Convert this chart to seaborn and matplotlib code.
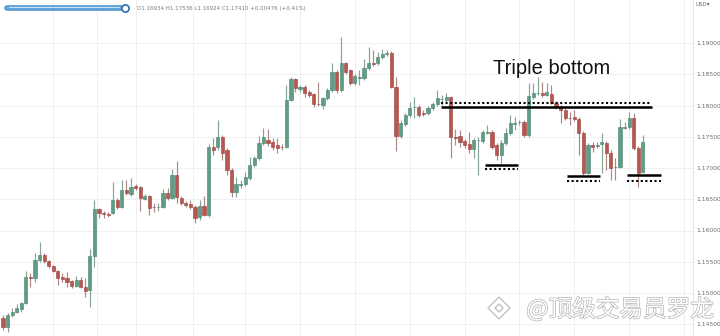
import numpy as np
import pandas as pd
import matplotlib
matplotlib.use("Agg")
import matplotlib.pyplot as plt
import matplotlib.patheffects as pe
from matplotlib.lines import Line2D
from matplotlib.patches import Polygon
import seaborn as sns

# ---- EUR/USD candles (open / high / low / close) ----
opens = [
    1.14600, 1.14456, 1.14648, 1.14696, 1.14744, 1.14840, 1.15256, 1.15240, 1.15528, 1.15608,
    1.15512, 1.15432, 1.15352, 1.15256, 1.15240, 1.15192, 1.15112, 1.15208, 1.15096, 1.15048,
    1.15592, 1.16344, 1.16280, 1.16264, 1.16280, 1.16488, 1.16376, 1.16648, 1.16584, 1.16712,
    1.16696, 1.16504, 1.16552, 1.16376, 1.16368, 1.16376, 1.16600, 1.16520, 1.16888, 1.16520,
    1.16440, 1.16424, 1.16376, 1.16216, 1.16392, 1.16248, 1.17336, 1.17336, 1.17496, 1.17288,
    1.16968, 1.16616, 1.16736, 1.16744, 1.16840, 1.17048, 1.17160, 1.17400, 1.17448, 1.17416,
    1.17368, 1.17336, 1.17336, 1.18088, 1.18424, 1.18264, 1.18296, 1.18216, 1.18184, 1.18024,
    1.18008, 1.18120, 1.18248, 1.18536, 1.18248, 1.18680, 1.18568, 1.18360, 1.18448, 1.18440,
    1.18600, 1.18680, 1.18680, 1.18776, 1.18816, 1.18840, 1.18296, 1.17512, 1.17704, 1.17848,
    1.17968, 1.17976, 1.17880, 1.17880, 1.17960, 1.18024, 1.18096, 1.18088, 1.18136, 1.17496,
    1.17512, 1.17432, 1.17384, 1.17304, 1.17440, 1.17432, 1.17560, 1.17576, 1.17368, 1.17208,
    1.17400, 1.17560, 1.17712, 1.17728, 1.17736, 1.17528, 1.18136, 1.18192, 1.18200, 1.18168,
    1.18184, 1.18040, 1.17976, 1.17928, 1.17800, 1.17816, 1.17784, 1.17560, 1.16920, 1.17368,
    1.17360, 1.17384, 1.17400, 1.17240, 1.17016, 1.17016, 1.17648, 1.17656, 1.17800, 1.17320,
    1.16934,
]
highs = [
    1.14648, 1.14680, 1.14760, 1.14824, 1.14856, 1.15352, 1.15320, 1.15640, 1.15816, 1.15640,
    1.15528, 1.15448, 1.15368, 1.15320, 1.15336, 1.15208, 1.15272, 1.15256, 1.15240, 1.15704,
    1.16488, 1.16360, 1.16312, 1.16296, 1.16776, 1.16520, 1.16808, 1.16808, 1.16840, 1.16744,
    1.16712, 1.16584, 1.16568, 1.16440, 1.16440, 1.16664, 1.16680, 1.16984, 1.17112, 1.16552,
    1.16472, 1.16488, 1.16408, 1.16488, 1.16552, 1.17384, 1.17480, 1.17768, 1.17528, 1.17320,
    1.17000, 1.16856, 1.16808, 1.16936, 1.17176, 1.17192, 1.17512, 1.17640, 1.17624, 1.17480,
    1.17480, 1.17384, 1.18328, 1.18456, 1.18440, 1.18328, 1.18328, 1.18248, 1.18200, 1.18376,
    1.18136, 1.18280, 1.18680, 1.18568, 1.19096, 1.18696, 1.18584, 1.18504, 1.18568, 1.18744,
    1.18936, 1.18888, 1.18856, 1.18904, 1.18888, 1.18872, 1.18456, 1.17768, 1.17880, 1.18056,
    1.18136, 1.18008, 1.17928, 1.17992, 1.18056, 1.18248, 1.18168, 1.18200, 1.18152, 1.17624,
    1.17608, 1.17464, 1.17576, 1.17480, 1.17496, 1.17608, 1.17688, 1.17608, 1.17400, 1.17448,
    1.17640, 1.17848, 1.17816, 1.17768, 1.17768, 1.18360, 1.18360, 1.18456, 1.18376, 1.18360,
    1.18328, 1.18072, 1.18008, 1.17960, 1.17896, 1.17928, 1.17816, 1.17592, 1.17400, 1.17416,
    1.17416, 1.17560, 1.17432, 1.17288, 1.17160, 1.17784, 1.17736, 1.17896, 1.17880, 1.17352,
    1.17536,
]
lows = [
    1.14408, 1.14376, 1.14616, 1.14680, 1.14696, 1.14824, 1.15096, 1.15176, 1.15496, 1.15480,
    1.15400, 1.15336, 1.15128, 1.15176, 1.15096, 1.15080, 1.15096, 1.15080, 1.14936, 1.14776,
    1.15416, 1.16200, 1.16200, 1.16216, 1.16264, 1.16344, 1.16360, 1.16568, 1.16552, 1.16648,
    1.16312, 1.16488, 1.16248, 1.16296, 1.16312, 1.16360, 1.16488, 1.16504, 1.16440, 1.16408,
    1.16376, 1.16344, 1.16120, 1.16168, 1.16232, 1.16216, 1.17208, 1.17288, 1.17128, 1.16888,
    1.16536, 1.16536, 1.16680, 1.16712, 1.16808, 1.17016, 1.17128, 1.17368, 1.17352, 1.17288,
    1.17240, 1.17288, 1.17320, 1.18072, 1.18216, 1.18216, 1.18136, 1.18136, 1.17976, 1.17992,
    1.17944, 1.18088, 1.18216, 1.18200, 1.18216, 1.18504, 1.18328, 1.18328, 1.18328, 1.18408,
    1.18568, 1.18632, 1.18648, 1.18744, 1.18792, 1.18280, 1.17272, 1.17480, 1.17672, 1.17816,
    1.17800, 1.17816, 1.17832, 1.17848, 1.17928, 1.17992, 1.18008, 1.18056, 1.17160, 1.17368,
    1.17336, 1.17320, 1.17240, 1.17160, 1.16888, 1.17400, 1.17544, 1.17304, 1.17128, 1.17080,
    1.17368, 1.17528, 1.17608, 1.17688, 1.17496, 1.17496, 1.18104, 1.18168, 1.18136, 1.18152,
    1.18024, 1.17944, 1.17720, 1.17768, 1.17688, 1.17752, 1.17208, 1.16888, 1.16904, 1.17256,
    1.17320, 1.16920, 1.16968, 1.16808, 1.16808, 1.17000, 1.17624, 1.17624, 1.17288, 1.16696,
    1.16924,
]
closes = [
    1.14456, 1.14648, 1.14696, 1.14760, 1.14840, 1.15256, 1.15240, 1.15528, 1.15608, 1.15512,
    1.15432, 1.15352, 1.15240, 1.15224, 1.15176, 1.15112, 1.15208, 1.15096, 1.15032, 1.15592,
    1.16344, 1.16280, 1.16264, 1.16248, 1.16488, 1.16376, 1.16648, 1.16600, 1.16696, 1.16680,
    1.16520, 1.16552, 1.16360, 1.16368, 1.16376, 1.16600, 1.16520, 1.16888, 1.16536, 1.16440,
    1.16408, 1.16376, 1.16200, 1.16392, 1.16248, 1.17336, 1.17288, 1.17496, 1.17240, 1.16968,
    1.16616, 1.16744, 1.16744, 1.16856, 1.17048, 1.17160, 1.17400, 1.17496, 1.17400, 1.17336,
    1.17320, 1.17328, 1.18088, 1.18424, 1.18280, 1.18296, 1.18200, 1.18168, 1.18024, 1.18016,
    1.18120, 1.18248, 1.18536, 1.18248, 1.18680, 1.18536, 1.18360, 1.18472, 1.18456, 1.18600,
    1.18680, 1.18672, 1.18776, 1.18824, 1.18840, 1.18296, 1.17512, 1.17720, 1.17848, 1.17960,
    1.17976, 1.17848, 1.17872, 1.17960, 1.18024, 1.18120, 1.18104, 1.18136, 1.17496, 1.17488,
    1.17416, 1.17368, 1.17304, 1.17448, 1.17448, 1.17576, 1.17576, 1.17336, 1.17208, 1.17400,
    1.17560, 1.17720, 1.17720, 1.17736, 1.17528, 1.18152, 1.18200, 1.18200, 1.18168, 1.18216,
    1.18040, 1.17976, 1.17928, 1.17800, 1.17792, 1.17784, 1.17560, 1.16920, 1.17368, 1.17336,
    1.17368, 1.17416, 1.17240, 1.17000, 1.17008, 1.17656, 1.17656, 1.17800, 1.17320, 1.16920,
    1.17410,
]

# Price axis labels
price_ticks = [1.145, 1.150, 1.155, 1.160, 1.165, 1.170, 1.175, 1.180, 1.185, 1.190]
# Session separators (bar index)
session_lines = [11, 20.5, 29, 41.5, 53, 65, 77, 89, 101, 113, 125, 137, 149]

# Support / resistance annotations: price, first bar, last bar, style
level_price = [1.17976, 1.18040, 1.17040, 1.16984, 1.16872, 1.16800, 1.16880, 1.16800]
level_start = [95.8, 95.8, 105.5, 105.5, 123.4, 123.4, 136.5, 136.5]
level_end   = [142.0, 141.7, 112.7, 112.7, 130.6, 130.6, 144.0, 144.0]
level_kind  = ["solid", "dots", "solid", "dots", "solid", "dots", "solid", "dots"]

header = "O1.16934 H1.17536 L1.16924 C1.17410 +0.00476 (+0.41%)"

# ---------------------------------------------------------------
sns.set_theme(style="white")
plt.rcParams["font.family"] = ["DejaVu Sans"]

W, H = 720, 336
fig = plt.figure(figsize=(W / 100, H / 100), dpi=100)
fig.patch.set_facecolor("white")
ax = fig.add_axes([0, 0, 693 / W, 1])
ax.set_facecolor("white")

df = pd.DataFrame({"open": opens, "high": highs, "low": lows, "close": closes})
df["bar"] = np.arange(len(df))
df["up"] = df["close"] >= df["open"]

up_face, up_edge, up_wick = "#5e9e85", "#467f68", "#86a597"
dn_face, dn_edge, dn_wick = "#b9564f", "#963f3a", "#ad8985"

# wicks
for up, wick in ((True, up_wick), (False, dn_wick)):
    sub = df[df["up"] == up]
    ax.vlines(sub["bar"], sub["low"], sub["high"], color=wick, lw=0.85, zorder=2)

# bodies
min_body = 0.00008
body_lo = np.minimum(df["open"], df["close"])
body_h = np.maximum((df["close"] - df["open"]).abs(), min_body)
for up, face, edge in ((True, up_face, up_edge), (False, dn_face, dn_edge)):
    m = df["up"] == up
    ax.bar(df.loc[m, "bar"], body_h[m], bottom=body_lo[m], width=0.7,
           color=face, edgecolor=edge, linewidth=0.4, zorder=3)

# support / resistance marks
for p, s, e, k in zip(level_price, level_start, level_end, level_kind):
    seg = pd.DataFrame({"bar": [s, e], "price": [p, p]})
    if k == "solid":
        sns.lineplot(data=seg, x="bar", y="price", ax=ax, color="black",
                     lw=1.8, zorder=5, solid_capstyle="butt")
    else:
        sns.lineplot(data=seg, x="bar", y="price", ax=ax, color="black",
                     lw=1.5, zorder=5, linestyle=(0, (1, 1.2)), dash_capstyle="butt")

ax.text(120.1, 1.18512, "Triple bottom", family=["Liberation Sans", "DejaVu Sans"],
        fontsize=14.5, color="#111111", ha="center", va="baseline", zorder=6)

# axes and grid
ax.set_xlim(-0.656, 150.98)
ax.set_ylim(1.14312, 1.19688)
ax.set_xticks(session_lines)
ax.set_xticklabels([])
ax.yaxis.tick_right()
ax.set_yticks(price_ticks)
ax.set_yticklabels([f"{t:.5f}" for t in price_ticks])
ax.tick_params(axis="y", length=0, pad=2.5, labelsize=4.3, labelcolor="#6b6b6b")
ax.tick_params(axis="x", length=0)
ax.grid(True, color="#eef0f3", lw=0.7, zorder=0)
ax.set_axisbelow(True)
ax.set_xlabel("")
ax.set_ylabel("")
for side in ("top", "left", "bottom"):
    ax.spines[side].set_visible(False)
ax.spines["right"].set_color("#e3e5e8")
ax.spines["right"].set_linewidth(0.8)

def fx(px):
    return px / W

def fy(py):
    return 1 - py / H

# header bar and OHLC readout
fig.add_artist(Line2D([fx(7), fx(122)], [fy(8), fy(8)], lw=4.2, color="#5f9fd8",
                      solid_capstyle="round"))
fig.add_artist(Line2D([fx(9), fx(119)], [fy(7.4), fy(7.4)], lw=0.8, color="#c9e0f5",
                      solid_capstyle="round"))
fig.add_artist(Line2D([fx(125)], [fy(8)], marker="o", ms=5.2, mfc="white",
                      mec="#3a76b2", mew=1.3))
fig.text(fx(137), fy(8.5), header, fontsize=4.0, color="#7a7a7a", va="center", ha="left")
fig.text(fx(695), fy(5), "USD\u25be", fontsize=4.0, color="#6b6b6b", va="center", ha="left")

# watermark
cx, cy, r = 499, 308, 11
outer = Polygon([[fx(cx), fy(cy - r)], [fx(cx + r), fy(cy)], [fx(cx), fy(cy + r)], [fx(cx - r), fy(cy)]],
                closed=True, transform=fig.transFigure, facecolor="white",
                edgecolor="#c2c2c2", lw=1.0)
inner = Polygon([[fx(cx), fy(cy - 4)], [fx(cx + 4), fy(cy)], [fx(cx), fy(cy + 4)], [fx(cx - 4), fy(cy)]],
                closed=True, transform=fig.transFigure, facecolor="white",
                edgecolor="#c2c2c2", lw=1.0)
fig.add_artist(outer)
fig.add_artist(inner)
wm = fig.text(fx(714), fy(309), "@顶级交易员罗龙",
              family=["Noto Sans CJK SC", "DejaVu Sans"], fontsize=17,
              color="white", ha="right", va="center")
wm.set_path_effects([pe.withStroke(linewidth=1.0, foreground="#b4b4b4")])

fig.savefig("out.png", dpi=100, facecolor="white")
